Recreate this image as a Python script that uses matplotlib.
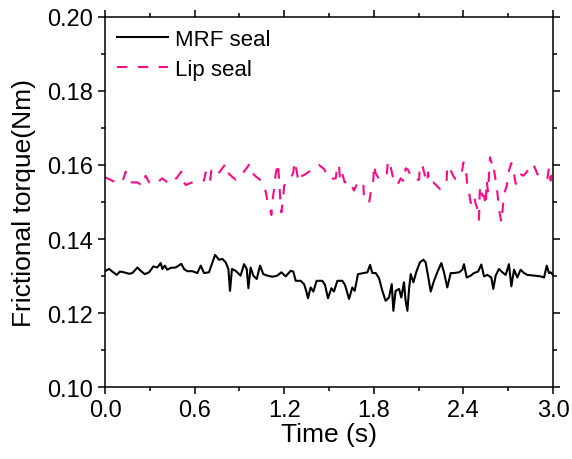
import matplotlib
matplotlib.use("Agg")
import matplotlib.pyplot as plt
from matplotlib.ticker import MultipleLocator, FormatStrFormatter

plt.rcParams['font.family'] = ['Liberation Sans', 'DejaVu Sans']

# MRF seal (black, solid)
mrf_t = [0.004, 0.027, 0.049, 0.078, 0.100, 0.127, 0.161, 0.183, 0.217, 0.239,
         0.266, 0.295, 0.324, 0.350, 0.373, 0.384, 0.400, 0.417, 0.440, 0.473,
         0.511, 0.529, 0.551, 0.585, 0.618, 0.641, 0.663, 0.696, 0.737, 0.763,
         0.786, 0.808, 0.826, 0.837, 0.850, 0.875, 0.908, 0.931, 0.949, 0.960,
         0.975, 0.993, 1.016, 1.038, 1.060, 1.087, 1.121, 1.154, 1.181, 1.210,
         1.243, 1.261, 1.277, 1.310, 1.333, 1.350, 1.359, 1.377, 1.395, 1.417,
         1.455, 1.473, 1.493, 1.516, 1.533, 1.556, 1.589, 1.607, 1.634, 1.656,
         1.672, 1.694, 1.734, 1.757, 1.775, 1.790, 1.813, 1.835, 1.857, 1.879,
         1.902, 1.920, 1.931, 1.946, 1.969, 1.984, 2.002, 2.013, 2.025, 2.036,
         2.047, 2.065, 2.087, 2.109, 2.132, 2.147, 2.163, 2.181, 2.203, 2.225,
         2.252, 2.270, 2.292, 2.315, 2.337, 2.371, 2.393, 2.404, 2.422, 2.449,
         2.471, 2.498, 2.520, 2.538, 2.560, 2.587, 2.600, 2.616, 2.638, 2.661,
         2.683, 2.705, 2.721, 2.739, 2.761, 2.783, 2.806, 2.828, 2.873, 2.917,
         2.940, 2.958, 2.973, 2.984, 3.000]
mrf_v = [0.1314, 0.1319, 0.1312, 0.1303, 0.1312, 0.1310, 0.1306, 0.1308, 0.1323, 0.1314,
         0.1305, 0.1310, 0.1326, 0.1323, 0.1335, 0.1319, 0.1328, 0.1317, 0.1322, 0.1323,
         0.1333, 0.1319, 0.1313, 0.1313, 0.1308, 0.1328, 0.1308, 0.1310, 0.1357, 0.1344,
         0.1346, 0.1337, 0.1319, 0.1260, 0.1319, 0.1314, 0.1301, 0.1332, 0.1319, 0.1267,
         0.1323, 0.1301, 0.1292, 0.1328, 0.1305, 0.1301, 0.1298, 0.1301, 0.1310, 0.1299,
         0.1314, 0.1312, 0.1287, 0.1287, 0.1278, 0.1256, 0.1240, 0.1269, 0.1258, 0.1287,
         0.1287, 0.1276, 0.1240, 0.1267, 0.1258, 0.1287, 0.1287, 0.1276, 0.1238, 0.1269,
         0.1260, 0.1305, 0.1308, 0.1310, 0.1330, 0.1308, 0.1308, 0.1294, 0.1260, 0.1233,
         0.1242, 0.1278, 0.1206, 0.1260, 0.1265, 0.1242, 0.1283, 0.1233, 0.1206, 0.1265,
         0.1305, 0.1283, 0.1314, 0.1337, 0.1344, 0.1337, 0.1301, 0.1258, 0.1287, 0.1310,
         0.1335, 0.1310, 0.1269, 0.1308, 0.1308, 0.1310, 0.1317, 0.1332, 0.1296, 0.1301,
         0.1308, 0.1312, 0.1331, 0.1299, 0.1303, 0.1296, 0.1265, 0.1301, 0.1319, 0.1310,
         0.1303, 0.1332, 0.1272, 0.1317, 0.1296, 0.1317, 0.1308, 0.1303, 0.1301, 0.1299,
         0.1296, 0.1328, 0.1308, 0.1310, 0.1303]

# Lip seal (magenta, dashed)
lip_t = [0.000, 0.056, 0.094, 0.116, 0.138, 0.161, 0.172, 0.217, 0.250, 0.272,
         0.295, 0.310, 0.350, 0.384, 0.429, 0.462, 0.484, 0.511, 0.529, 0.540,
         0.596, 0.641, 0.663, 0.674, 0.690, 0.703, 0.712, 0.741, 0.757, 0.808,
         0.830, 0.875, 0.897, 0.920, 0.969, 0.998, 1.038, 1.060, 1.076, 1.087,
         1.105, 1.114, 1.123, 1.132, 1.143, 1.158, 1.167, 1.176, 1.181, 1.194,
         1.199, 1.243, 1.261, 1.270, 1.283, 1.295, 1.310, 1.333, 1.366, 1.400,
         1.433, 1.467, 1.500, 1.545, 1.556, 1.567, 1.574, 1.589, 1.605, 1.634,
         1.667, 1.694, 1.730, 1.734, 1.768, 1.783, 1.797, 1.801, 1.812, 1.835,
         1.857, 1.886, 1.895, 1.913, 1.931, 1.958, 1.980, 2.002, 2.013, 2.029,
         2.047, 2.058, 2.103, 2.109, 2.125, 2.141, 2.158, 2.163, 2.176, 2.199,
         2.243, 2.275, 2.288, 2.292, 2.315, 2.337, 2.348, 2.386, 2.400, 2.415,
         2.426, 2.437, 2.449, 2.471, 2.482, 2.498, 2.504, 2.511, 2.527, 2.538,
         2.549, 2.556, 2.565, 2.578, 2.594, 2.600, 2.609, 2.623, 2.632, 2.638,
         2.654, 2.665, 2.676, 2.690, 2.705, 2.721, 2.739, 2.750, 2.761, 2.779,
         2.801, 2.817, 2.868, 2.895, 2.935, 2.962, 2.973, 2.984, 3.000]
lip_v = [0.1567, 0.1556, 0.1553, 0.1553, 0.1582, 0.1558, 0.1553, 0.1553, 0.1544, 0.1571,
         0.1553, 0.1549, 0.1553, 0.1564, 0.1549, 0.1558, 0.1567, 0.1582, 0.1553, 0.1546,
         0.1555, 0.1558, 0.1558, 0.1580, 0.1562, 0.1555, 0.1585, 0.1571, 0.1576, 0.1603,
         0.1576, 0.1560, 0.1567, 0.1576, 0.1603, 0.1573, 0.1560, 0.1544, 0.1528, 0.1504,
         0.1486, 0.1465, 0.1508, 0.1535, 0.1576, 0.1605, 0.1553, 0.1490, 0.1472, 0.1513,
         0.1544, 0.1562, 0.1580, 0.1609, 0.1585, 0.1555, 0.1569, 0.1573, 0.1582, 0.1589,
         0.1600, 0.1589, 0.1562, 0.1564, 0.1600, 0.1600, 0.1558, 0.1576, 0.1553, 0.1558,
         0.1531, 0.1555, 0.1551, 0.1513, 0.1497, 0.1535, 0.1560, 0.1600, 0.1578, 0.1562,
         0.1564, 0.1573, 0.1612, 0.1594, 0.1562, 0.1546, 0.1564, 0.1555, 0.1591, 0.1587,
         0.1571, 0.1562, 0.1560, 0.1600, 0.1600, 0.1573, 0.1553, 0.1580, 0.1549, 0.1553,
         0.1535, 0.1544, 0.1560, 0.1598, 0.1585, 0.1567, 0.1562, 0.1571, 0.1607, 0.1598,
         0.1544, 0.1528, 0.1497, 0.1517, 0.1495, 0.1477, 0.1452, 0.1544, 0.1517, 0.1517,
         0.1490, 0.1558, 0.1526, 0.1621, 0.1598, 0.1603, 0.1576, 0.1540, 0.1508, 0.1481,
         0.1445, 0.1490, 0.1526, 0.1544, 0.1585, 0.1605, 0.1576, 0.1549, 0.1558, 0.1576,
         0.1571, 0.1578, 0.1603, 0.1576, 0.1562, 0.1562, 0.1594, 0.1558, 0.1605]

x_ticks = [0.0, 0.6, 1.2, 1.8, 2.4, 3.0]
y_ticks = [0.10, 0.12, 0.14, 0.16, 0.18, 0.20]

fig = plt.figure(figsize=(5.72, 4.60), dpi=100)
ax = fig.add_axes([0.1836, 0.1565, 0.7832, 0.8044])

ax.plot(mrf_t, mrf_v, color='black', lw=1.5, label='MRF seal')
ax.plot(lip_t, lip_v, color='#ff0a84', lw=1.5, dashes=(5, 5), label='Lip seal')

ax.set_xlim(0, 3.0)
ax.set_ylim(0.10, 0.20)
ax.set_xticks(x_ticks)
ax.set_yticks(y_ticks)
ax.xaxis.set_major_formatter(FormatStrFormatter('%.1f'))
ax.yaxis.set_major_formatter(FormatStrFormatter('%.2f'))
ax.xaxis.set_minor_locator(MultipleLocator(0.3))
ax.yaxis.set_minor_locator(MultipleLocator(0.01))
ax.tick_params(which='both', direction='out', top=True, right=True,
               labelsize=17, width=1.1)
ax.tick_params(which='major', length=5)
ax.tick_params(which='minor', length=3)
for s in ax.spines.values():
    s.set_linewidth(1.1)

ax.set_xlabel('Time (s)', fontsize=19, labelpad=1)
ax.set_ylabel('Frictional torque(Nm)', fontsize=19, labelpad=8)

ax.legend(loc='upper left', frameon=False, fontsize=16, handlelength=2.3,
          borderaxespad=0.15, labelspacing=0.4, handletextpad=0.3)

fig.savefig('out.png', dpi=100)
